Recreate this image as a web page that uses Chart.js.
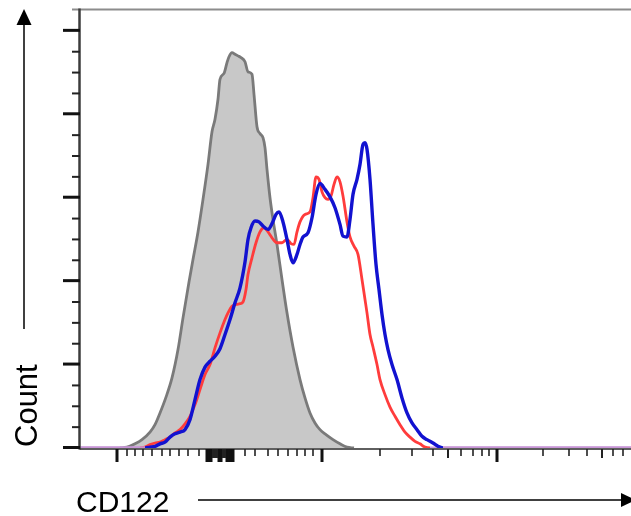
<!DOCTYPE html>
<html>
<head>
<meta charset="utf-8">
<title>CD122 histogram</title>
<script src="https://cdn.jsdelivr.net/npm/chart.js@4.4.1/dist/chart.umd.min.js"></script>
<style>
  html, body { margin: 0; padding: 0; background: #fff; }
  canvas { display: block; }
</style>
</head>
<body>
<canvas id="histo" width="631" height="516"></canvas>
<script>
// CD122 overlay histogram: isotype (gray fill) vs two stained samples (red, blue)
// x = display channel, y = count

const isotypeX = [80, 94, 110, 124, 140, 150, 160, 172, 184, 196, 206, 218, 226, 236, 246, 256, 264, 270, 276, 280,
  288, 294, 298, 304, 310, 316, 322, 330, 336, 344, 348, 354, 360, 366, 370, 374, 380, 386, 394, 404,
  414, 426, 440, 450, 460, 470, 480, 492, 506, 520, 534, 548];
const isotypeCount = [0, 1, 5, 10, 19, 28, 42, 61, 84, 118, 156, 199, 226, 259, 298, 340, 379, 394, 418, 442,
  449, 462, 469, 474, 472, 470, 468, 463, 451, 448, 424, 385, 377, 372, 360, 334, 300, 274, 244, 202,
  162, 121, 82, 60, 42, 30, 22, 16, 10, 5, 1, 0];

const redX = [0, 120, 130, 140, 150, 160, 170, 180, 190, 200, 210, 220, 230, 240, 250, 260, 270, 280, 290, 296, 304,
  312, 320, 326, 332, 336, 344, 352, 360, 368, 376, 384, 394, 404, 414, 422, 428, 434, 440, 450, 460,
  466, 472, 478, 484, 490, 496, 502, 508, 514, 520, 526, 534, 540, 548, 556, 564, 570, 574, 580, 586,
  594, 600, 610, 620, 630, 640, 650, 660, 670, 680, 690, 700, 1102];
const redCount = [0, 0, 1, 4, 6, 7, 10, 13, 18, 22, 29, 38, 52, 70, 88, 100, 120, 138, 154, 162, 170,
  172, 173, 175, 190, 208, 228, 246, 259, 264, 259, 252, 246, 246, 250, 245, 244, 259, 271, 280, 283,
  300, 325, 322, 307, 300, 298, 302, 316, 325, 319, 302, 271, 253, 242, 232, 202, 178, 162, 136, 121,
  100, 82, 64, 49, 38, 28, 19, 13, 8, 5, 1, 0, 0];

const blueX = [0, 130, 140, 150, 160, 170, 180, 190, 200, 210, 220, 230, 240, 250, 260, 270, 280, 290, 300, 310, 320,
  330, 336, 342, 350, 358, 366, 376, 384, 392, 398, 406, 414, 420, 426, 434, 440, 446, 456, 464, 472,
  480, 490, 500, 510, 520, 526, 534, 540, 546, 554, 560, 566, 570, 574, 580, 586, 592, 598, 604, 610,
  616, 624, 634, 644, 654, 664, 674, 684, 694, 706, 716, 726, 1102];
const blueCount = [0, 0, 1, 2, 5, 7, 13, 17, 19, 22, 34, 58, 82, 97, 104, 110, 119, 136, 154, 174, 192,
  223, 250, 264, 272, 271, 266, 262, 269, 280, 283, 271, 250, 232, 222, 232, 244, 253, 258, 276, 304,
  317, 310, 301, 288, 268, 254, 253, 274, 304, 322, 340, 364, 366, 358, 322, 268, 220, 190, 160, 136,
  118, 100, 82, 60, 42, 30, 22, 14, 10, 6, 2, 0, 0];

// axis ticks (in axis units)
const yMajorTicks = [0, 100, 200, 300, 400, 500];
const yMinorTicks = [25, 50, 75, 125, 150, 175, 225, 250, 275, 325, 350, 375, 425, 450, 475];
const xMajorTicks = [74, 254, 258, 262, 278, 282, 294, 298, 302, 306, 484, 834];
const xMediumTicks = [266, 270, 274, 286, 290, 736, 1044];
const xMinorTicks = [94, 110, 126, 144, 164, 180, 198, 216, 238,
  330, 350, 376, 396, 416, 434, 450, 466,
  600, 664, 706, 762, 786, 804, 818,
  926, 978, 1014, 1066, 1086];

const xLabel = 'CD122';
const yLabel = 'Count';

function pts(xs, ys) {
  return xs.map((v, i) => ({ x: v, y: ys[i] }));
}

const zeroTint = ctx => (ctx.p0.parsed.y === 0 && ctx.p1.parsed.y === 0) ? 'rgba(200,150,215,0.9)' : undefined;

const axisDecor = {
  id: 'axisDecor',
  afterDatasetsDraw(chart) {
    const { ctx, chartArea: a, scales: { x, y } } = chart;
    ctx.save();
    ctx.lineCap = 'butt';

    // top frame
    ctx.strokeStyle = '#8c8c8c';
    ctx.lineWidth = 2;
    ctx.beginPath(); ctx.moveTo(72, a.top - 0.5); ctx.lineTo(a.right, a.top - 0.5); ctx.stroke();

    // left axis
    ctx.strokeStyle = '#3c3c3c';
    ctx.lineWidth = 2.5;
    ctx.beginPath(); ctx.moveTo(a.left - 0.5, a.top - 1.5); ctx.lineTo(a.left - 0.5, a.bottom + 1.5); ctx.stroke();

    // bottom axis
    ctx.strokeStyle = '#2a2a2a';
    ctx.lineWidth = 1.6;
    ctx.beginPath(); ctx.moveTo(a.left - 0.5, a.bottom + 1); ctx.lineTo(a.right, a.bottom + 1); ctx.stroke();

    // y ticks
    ctx.strokeStyle = '#111';
    ctx.lineWidth = 3;
    yMajorTicks.forEach(v => {
      const p = y.getPixelForValue(v) - 0.5;
      ctx.beginPath(); ctx.moveTo(a.left - 17, p); ctx.lineTo(a.left, p); ctx.stroke();
    });
    ctx.strokeStyle = '#222';
    ctx.lineWidth = 2;
    yMinorTicks.forEach(v => {
      const p = y.getPixelForValue(v);
      ctx.beginPath(); ctx.moveTo(a.left - 8, p); ctx.lineTo(a.left, p); ctx.stroke();
    });

    // x ticks
    const base = a.bottom + 1;
    const drawX = (list, len, w) => {
      ctx.lineWidth = w;
      list.forEach(v => {
        const p = x.getPixelForValue(v);
        ctx.beginPath(); ctx.moveTo(p, base); ctx.lineTo(p, base + len); ctx.stroke();
      });
    };
    ctx.strokeStyle = '#111';
    drawX(xMajorTicks, 13, 3);
    ctx.strokeStyle = '#222';
    drawX(xMediumTicks, 9, 2);
    drawX(xMinorTicks, 7, 1.6);
    ctx.restore();
  },
  afterDraw(chart) {
    const { ctx } = chart;
    ctx.save();
    ctx.fillStyle = '#000';
    ctx.strokeStyle = '#000';
    ctx.lineWidth = 1.5;

    // y arrow
    ctx.beginPath(); ctx.moveTo(24, 329); ctx.lineTo(24, 24); ctx.stroke();
    ctx.beginPath(); ctx.moveTo(24, 9); ctx.lineTo(16.5, 25); ctx.lineTo(31.5, 25); ctx.closePath(); ctx.fill();

    // x arrow
    ctx.beginPath(); ctx.moveTo(198, 500); ctx.lineTo(622, 500); ctx.stroke();
    ctx.beginPath(); ctx.moveTo(636, 500); ctx.lineTo(621, 493); ctx.lineTo(621, 507); ctx.closePath(); ctx.fill();

    // axis titles
    ctx.font = '30px "Liberation Sans", Arial, sans-serif';
    ctx.textBaseline = 'alphabetic';
    ctx.textAlign = 'left';
    ctx.fillText(xLabel, 76, 512);

    ctx.font = '31px "Liberation Sans", Arial, sans-serif';
    ctx.translate(37, 447);
    ctx.rotate(-Math.PI / 2);
    ctx.fillText(yLabel, 0, 0);
    ctx.restore();
  }
};

new Chart(document.getElementById('histo'), {
  type: 'line',
  data: {
    datasets: [
      {
        label: 'Sample B',
        data: pts(blueX, blueCount),
        borderColor: '#1212d0',
        borderWidth: 3.4,
        pointRadius: 0,
        fill: false,
        cubicInterpolationMode: 'monotone',
        segment: { borderColor: zeroTint },
        order: 0
      },
      {
        label: 'Sample A',
        data: pts(redX, redCount),
        borderColor: '#ff3c3c',
        borderWidth: 2.8,
        pointRadius: 0,
        fill: false,
        cubicInterpolationMode: 'monotone',
        segment: { borderColor: zeroTint },
        order: 1
      },
      {
        label: 'Isotype',
        data: pts(isotypeX, isotypeCount),
        borderColor: '#7a7a7a',
        backgroundColor: '#c8c8c8',
        borderWidth: 2.8,
        pointRadius: 0,
        fill: 'origin',
        cubicInterpolationMode: 'monotone',
        order: 2
      }
    ]
  },
  options: {
    responsive: false,
    animation: false,
    layout: { padding: { left: 80, top: 10, right: 0, bottom: 68 } },
    plugins: { legend: { display: false }, tooltip: { enabled: false } },
    scales: {
      x: { type: 'linear', min: 0, max: 1102, display: false },
      y: { type: 'linear', min: 0, max: 525, display: false }
    }
  },
  plugins: [axisDecor]
});
</script>
</body>
</html>
